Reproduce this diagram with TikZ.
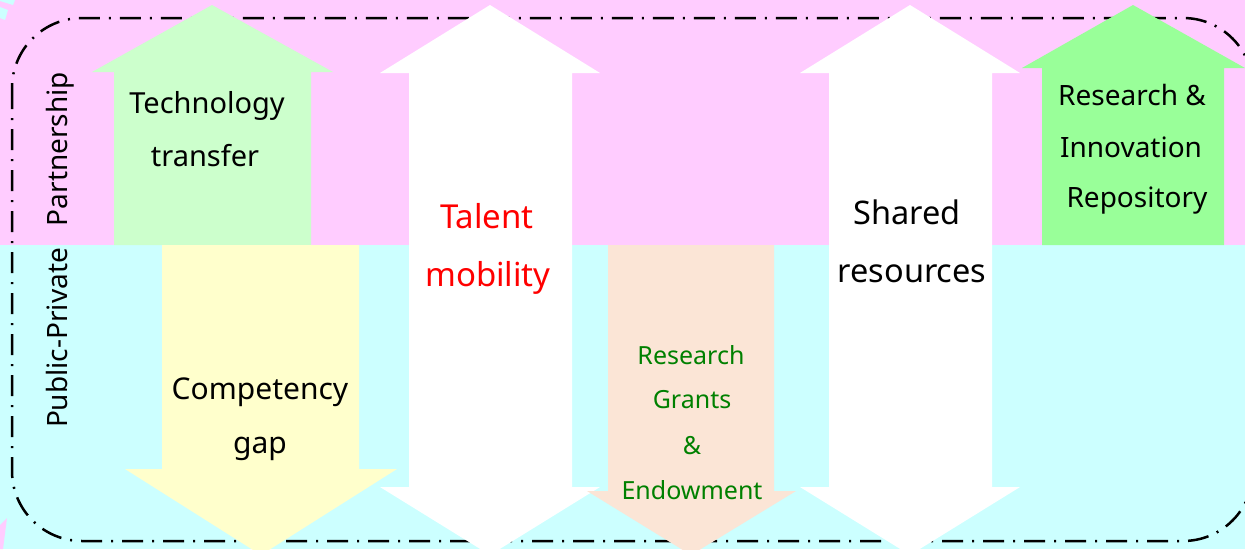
\documentclass[tikz,border=0pt]{standalone}
\usepackage{fontspec}
\setmainfont{Noto Sans}
\definecolor{bgpink}{HTML}{FFCCFF}
\definecolor{bgcyan}{HTML}{CCFFFF}
\definecolor{ltgreen}{HTML}{CCFFCC}
\definecolor{ltyellow}{HTML}{FFFFCC}
\definecolor{peach}{HTML}{FBE5D6}
\definecolor{midgreen}{HTML}{99FF99}
\definecolor{txtred}{HTML}{FF0000}
\definecolor{txtgreen}{HTML}{008000}
\newcommand\setfs[1]{\fontsize{#1}{#1}\selectfont}
\tikzset{
  lbl/.style={anchor=base, inner sep=0pt, font=\setfs{28}},
  bigl/.style={lbl, font=\setfs{32.5}},
  repl/.style={lbl, font=\setfs{28}},
  grantl/.style={lbl, font=\setfs{25}, text=txtgreen},
  border/.style={draw=black, line width=2.5pt, dash pattern=on 21pt off 9pt on 2pt off 9pt, rounded corners=70pt}
}
\begin{document}
\begin{tikzpicture}[x=1pt,y=-1pt]
\useasboundingbox (0,0) rectangle (1245,549);
\clip (0,0) rectangle (1245,549);
% backgrounds
\fill[bgpink] (0,0) rectangle (1245,245);
\fill[bgcyan] (0,245) rectangle (1245,549);
% small corner fragments
\fill[bgcyan] (0,0) -- (15,0) -- (13,5) -- (0,1) -- cycle;
\fill[bgcyan] (0,7) -- (8,10) -- (5,20) -- (0,18) -- cycle;
\fill[bgpink] (7,518) -- (0,525) -- (0,549) -- (3,549) -- cycle;
% dash-dot border
\draw[border] (12,18) rectangle (1253,541);
% arrows
\fill[ltgreen] (212,5) -- (333,72) -- (311,72) -- (311,245) -- (114,245) -- (114,72) -- (92,72) -- cycle;
\fill[ltyellow] (162,245) -- (359,245) -- (359,469) -- (397,469) -- (261,555) -- (125,469) -- (162,469) -- cycle;
\fill[white] (490,5) -- (600,73) -- (572,73) -- (572,487) -- (600,487) -- (490,555) -- (380,487) -- (409,487) -- (409,73) -- (380,73) -- cycle;
\fill[peach] (608,245) -- (774,245) -- (774,491) -- (796,491) -- (691,555) -- (587,491) -- (608,491) -- cycle;
\fill[white] (910,5) -- (1020,73) -- (992,73) -- (992,487) -- (1020,487) -- (910,555) -- (800,487) -- (829,487) -- (829,73) -- (800,73) -- cycle;
\fill[midgreen] (1133,5) -- (1245,68) -- (1224,68) -- (1224,245) -- (1042,245) -- (1042,68) -- (1022,68) -- cycle;
% side labels
\node[lbl, rotate=90] (pt) at (67,149) {Partnership};
\node[lbl, rotate=90] (pp) at (67,338) {Public-Private};
% arrow labels
\node[lbl, font=\setfs{29}] (tt1) at (207,113) {Technology};
\node[lbl, font=\setfs{29}] (tt2) at (205,166) {transfer};
\node[lbl, font=\setfs{30}] (cg1) at (260,399) {Competency};
\node[lbl, font=\setfs{30}] (cg2) at (260,453) {gap};
\node[bigl, font=\setfs{33}, text=txtred] (tm1) at (487,228) {Talent};
\node[bigl, font=\setfs{33}, text=txtred] (tm2) at (488,286) {mobility};
\node[grantl] (rg1) at (691,364) {Research};
\node[grantl] (rg2) at (692,408) {Grants};
\node[grantl] (rg3) at (692,454) {\&};
\node[grantl] (rg4) at (692,499) {Endowment};
\node[bigl] (sr1) at (907,224) {Shared};
\node[bigl] (sr2) at (912,282) {resources};
\node[repl] (ri1) at (1132,105) {Research \&};
\node[repl] (ri2) at (1131,157) {Innovation};
\node[repl] (ri3) at (1137,207) {Repository};
\end{tikzpicture}
\end{document}
